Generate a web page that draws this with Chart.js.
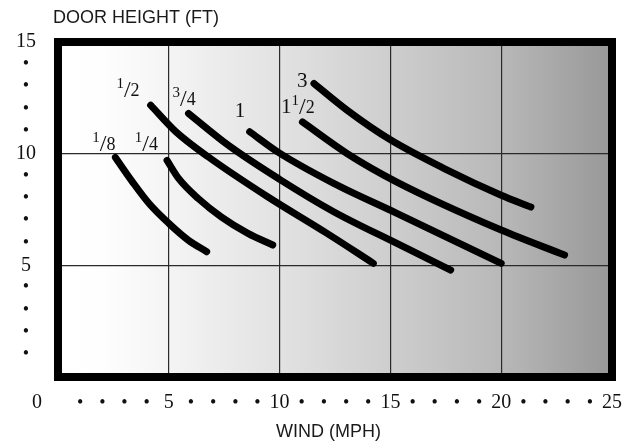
<!DOCTYPE html>
<html>
<head>
<meta charset="utf-8">
<script src="https://cdn.jsdelivr.net/npm/chart.js@4/dist/chart.umd.min.js"></script>
<style>
html,body{margin:0;padding:0;background:#ffffff;}
#c{display:block;}
</style>
</head>
<body>
<canvas id="c" width="636" height="444"></canvas>
<script>
// ---- data (wind in MPH, door height in FT) ----
const curveLabels = ['¹/8', '¹/4', '¹/2', '³/4', '1', '1¹/2', '3'];
const curve1_8  = [[2.59, 9.83], [3.36, 8.74], [4.11, 7.77], [5.00, 6.88], [5.89, 6.12], [6.71, 5.61]];
const curve1_4  = [[4.92, 9.70], [5.45, 8.88], [6.34, 7.98], [7.38, 7.16], [8.57, 6.43], [9.69, 5.91]];
const curve1_2  = [[4.18, 12.17], [5.30, 11.00], [6.79, 9.85], [9.46, 8.07], [12.14, 6.43], [14.23, 5.09]];
const curve3_4  = [[5.89, 11.80], [7.68, 10.38], [10.00, 8.85], [12.44, 7.40], [15.27, 5.99], [17.72, 4.79]];
const curve1    = [[8.65, 10.98], [9.91, 10.08], [12.44, 8.67], [15.27, 7.34], [20.00, 5.09]];
const curve1_5  = [[11.03, 11.42], [13.04, 10.01], [15.27, 8.74], [20.00, 6.58], [22.86, 5.46]];
const curve3    = [[11.55, 13.14], [13.04, 11.95], [15.00, 10.62], [17.50, 9.30], [20.00, 8.14], [21.34, 7.61]];
const curves = [curve1_8, curve1_4, curve1_2, curve3_4, curve1, curve1_5, curve3];
const xMin = 0, xMax = 25, yMin = 0, yMax = 15, majorStep = 5;
const xTitle = 'WIND (MPH)';
const yTitle = 'DOOR HEIGHT (FT)';
const originLabel = '0';

// ---- styling ----
const labelOffsets = [[-11.5, -7.3], [-20.7, -10.2], [-22.6, -9], [-4.4, -8.3], [-9.8, -14.6], [-4.6, -8.8], [-11.7, 3.4]];
const serif = '"Liberation Serif", "Times New Roman", serif';
const sans = '"Liberation Sans", Arial, sans-serif';
const numFont = {family: serif, size: 20, lineHeight: 1.2};
const dotFont = {family: serif, size: 18, lineHeight: 24 / 18};
const supMap = {'¹': '1', '²': '2', '³': '3'};

function drawFractionLabel(ctx, text, cx, baseY) {
  const parts = [];
  let afterSlash = false;
  for (const ch of text) {
    if (supMap[ch]) parts.push({t: supMap[ch], size: 15, rise: 8});
    else if (ch === '/') { parts.push({t: '/', size: 24, rise: -1}); afterSlash = true; }
    else parts.push({t: ch, size: afterSlash ? 18 : 21, rise: 0});
  }
  let total = 0;
  parts.forEach(p => { ctx.font = p.size + 'px ' + serif; p.w = ctx.measureText(p.t).width; total += p.w; });
  let x = cx - total / 2;
  ctx.textAlign = 'left';
  parts.forEach(p => { ctx.font = p.size + 'px ' + serif; ctx.fillText(p.t, x, baseY - p.rise); x += p.w; });
}

const decor = {
  id: 'decor',
  beforeDraw(chart) {
    const {ctx, chartArea: a} = chart;
    const g = ctx.createLinearGradient(a.left, 0, a.right, 0);
    g.addColorStop(0, '#ffffff');
    g.addColorStop(0.08, '#fefefe');
    g.addColorStop(0.2, '#f4f4f4');
    g.addColorStop(0.4, '#e2e2e2');
    g.addColorStop(0.6, '#cecece');
    g.addColorStop(0.8, '#b8b8b8');
    g.addColorStop(1, '#989898');
    ctx.save();
    ctx.fillStyle = '#ffffff';
    ctx.fillRect(0, 0, chart.width, chart.height);
    ctx.fillStyle = g;
    ctx.fillRect(a.left, a.top, a.right - a.left, a.bottom - a.top);
    ctx.restore();
  },
  afterDatasetsDraw(chart) {
    const {ctx, chartArea: a, scales} = chart;
    ctx.save();
    ctx.strokeStyle = '#000';
    ctx.lineWidth = 8;
    ctx.strokeRect(a.left, a.top, a.right - a.left, a.bottom - a.top);
    ctx.fillStyle = '#111';
    ctx.textBaseline = 'alphabetic';
    chart.data.datasets.forEach((ds, i) => {
      const p = ds.data[0];
      const px = scales.x.getPixelForValue(p.x) + labelOffsets[i][0];
      const py = scales.y.getPixelForValue(p.y) + labelOffsets[i][1];
      drawFractionLabel(ctx, curveLabels[i], px, py);
    });
    ctx.restore();
  },
  afterDraw(chart) {
    const {ctx, chartArea: a, scales} = chart;
    ctx.save();
    ctx.fillStyle = '#1a1a1a';
    ctx.font = '18px ' + sans;
    ctx.textAlign = 'left';
    ctx.textBaseline = 'alphabetic';
    ctx.fillText(yTitle, a.left - 5, a.top - 19);
    ctx.textAlign = 'center';
    ctx.fillText(xTitle, (a.left + a.right) / 2 - 6.5, a.bottom + 59.5);
    ctx.fillStyle = '#111';
    ctx.font = '20px ' + serif;
    ctx.textBaseline = 'middle';
    ctx.fillText(originLabel, scales.x.getPixelForValue(xMin) - 21, scales.x.top + 14 + 12);
    ctx.restore();
  }
};

const isMajor = v => v % majorStep === 0;
const gridColor = ctx => {
  const v = ctx.tick ? ctx.tick.value : null;
  return (v !== null && isMajor(v)) ? '#2a2a2a' : 'rgba(0,0,0,0)';
};

new Chart(document.getElementById('c'), {
  type: 'line',
  data: {
    datasets: curves.map((c, i) => ({
      label: curveLabels[i],
      data: c.map(p => ({x: p[0], y: p[1]})),
      borderColor: '#000',
      borderWidth: 7,
      borderCapStyle: 'round',
      borderJoinStyle: 'round',
      cubicInterpolationMode: 'monotone',
      pointRadius: 0,
      fill: false
    }))
  },
  options: {
    responsive: false,
    animation: false,
    devicePixelRatio: 1,
    layout: {padding: {top: 42, right: 18, bottom: 29, left: 0}},
    plugins: {legend: {display: false}, tooltip: {enabled: false}, title: {display: false}},
    scales: {
      x: {
        type: 'linear',
        min: xMin, max: xMax,
        border: {display: false},
        grid: {color: gridColor, lineWidth: 1.2, drawTicks: false},
        afterFit: s => { s.height = 38; },
        ticks: {
          stepSize: 1,
          autoSkip: false,
          maxRotation: 0, minRotation: 0,
          padding: 14,
          color: '#111',
          font: ctx => (ctx.tick && isMajor(ctx.tick.value)) ? numFont : dotFont,
          callback: v => v === xMin ? '' : (isMajor(v) ? String(v) : '•')
        }
      },
      y: {
        type: 'linear',
        min: yMin, max: yMax,
        border: {display: false},
        grid: {color: gridColor, lineWidth: 1.2, drawTicks: false},
        afterFit: s => { s.width = 58; },
        ticks: {
          stepSize: 1,
          autoSkip: false,
          padding: 22,
          crossAlign: 'center',
          color: '#111',
          font: ctx => (ctx.tick && isMajor(ctx.tick.value)) ? numFont : dotFont,
          callback: v => v === yMin ? '' : (isMajor(v) ? String(v) : '•')
        }
      }
    }
  },
  plugins: [decor]
});
</script>
</body>
</html>
